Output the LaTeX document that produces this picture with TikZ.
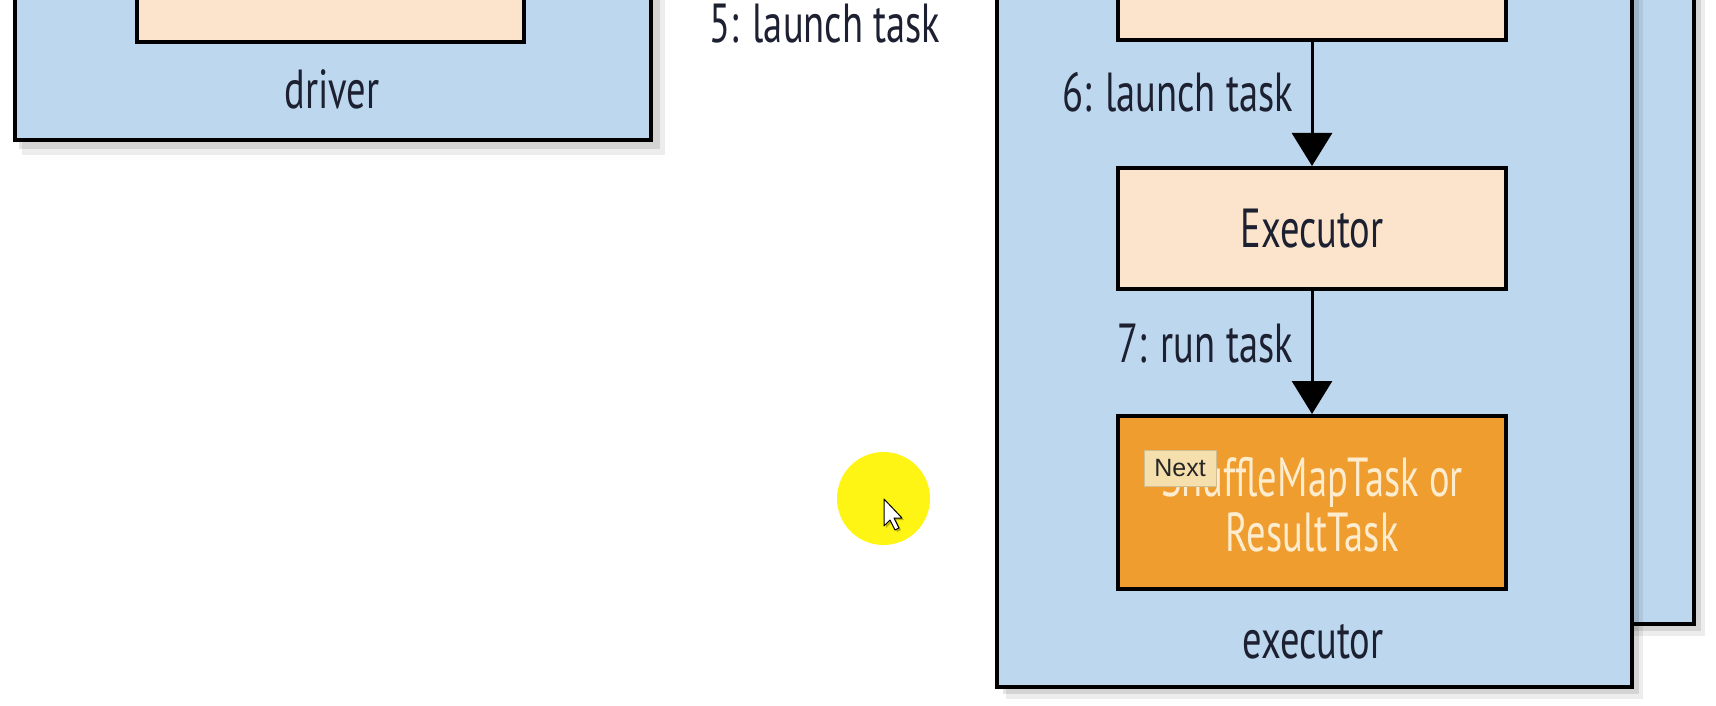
\documentclass[tikz,border=0pt]{standalone}
\usepackage{fontspec}
\setmainfont[FakeStretch=0.7]{PT Sans}
\newfontfamily\tipfont{Liberation Sans}
\usetikzlibrary{arrows.meta}
\definecolor{bluebg}{RGB}{189,215,238}
\definecolor{peach}{RGB}{252,228,204}
\definecolor{orangebox}{RGB}{240,157,48}
\definecolor{ink}{RGB}{28,32,48}
\definecolor{cream}{RGB}{253,236,205}
\definecolor{tipbg}{RGB}{245,223,172}
\definecolor{hilite}{RGB}{255,245,20}
\tikzset{
  outerbox/.style={draw=black, line width=4.5pt, fill=bluebg, inner sep=0pt},
  innerbox/.style={draw=black, line width=4pt, fill=peach, inner sep=0pt},
  taskbox/.style={draw=black, line width=4pt, fill=orangebox, inner sep=0pt},
  lbl/.style={text=ink, font=\fontsize{55}{60}\selectfont, inner sep=0pt},
  arr/.style={draw=black, line width=3pt, -{Triangle[width=40pt,length=33pt]}},
  shadowA/.style={fill=black, opacity=0.10},
  shadowB/.style={fill=black, opacity=0.07},
}
\begin{document}
\begin{tikzpicture}[x=1pt,y=-1pt]
\useasboundingbox (0,0) rectangle (1716,706);
\clip (0,0) rectangle (1716,706);
\fill[white] (0,0) rectangle (1716,706);

% ---------- driver ----------
\fill[shadowA] (19,-60) rectangle (660,149);
\fill[shadowB] (22,-60) rectangle (665,155);
\node[outerbox, minimum width=636pt, minimum height=200pt] (driver) at (333,40) {};
\node[innerbox, minimum width=387pt, minimum height=102pt] (driverin) at (330.5,-9) {};
\node[lbl, anchor=base] (driverlbl) at (332,109) {driver};

\node[lbl, anchor=base] (launch5) at (825,43) {5: launch task};

% ---------- executors ----------
\fill[shadowA] (1065,-60) rectangle (1701,631);
\fill[shadowB] (1068,-60) rectangle (1705,636);
\node[outerbox, minimum width=635pt, minimum height=684pt] (execback) at (1376.5,282) {};
\fill[shadowA] (1003,-60) rectangle (1639,694);
\fill[shadowB] (1006,-60) rectangle (1643,699);
\node[outerbox, minimum width=635pt, minimum height=747pt] (execfront) at (1314.5,313.5) {};

\node[innerbox, minimum width=388pt, minimum height=100pt] (topbox) at (1312,-10) {};
\node[innerbox, minimum width=388pt, minimum height=121pt] (executor) at (1312,228.5) {};
\node[lbl, anchor=base] at (executor.center) [yshift=-19pt] {Executor};
\node[taskbox, minimum width=388pt, minimum height=173pt] (task) at (1312,502.5) {};
\node[lbl, text=cream, anchor=base, align=center, font=\fontsize{55}{55}\selectfont] (tasktxt) at (1312,551) {ShuffleMapTask or\\ResultTask};
\node[lbl, anchor=base] (execlbl) at (1313,658) {executor};

\draw[arr] (topbox.south) -- (executor.north);
\draw[arr] (executor.south) -- (task.north);
\node[lbl, anchor=base east] (launch6) at (1293,112) {6: launch task};
\node[lbl, anchor=base east] (run7) at (1293,362) {7: run task};

% ---------- screen overlays ----------
\node[circle, fill=hilite, minimum size=93pt, inner sep=0pt] (spot) at (883.5,498.5) {};
\fill[black, opacity=0.25] (886,501) -- ++(0,27) -- ++(6,-6) -- ++(5,10) -- ++(4,-2) -- ++(-5,-10) -- ++(8,0) -- cycle;
\draw[fill=white, draw=black, line width=1pt, line join=round] (884,499) coordinate (cursortip) -- ++(0,27) -- ++(6,-6) -- ++(5,10) -- ++(4,-2) -- ++(-5,-10) -- ++(8,0) -- cycle;
\node[fill=tipbg, draw=tipbg!85!black, line width=0.4pt, minimum width=72pt, minimum height=36pt, inner sep=0pt, font=\tipfont\fontsize{25}{27}\selectfont, text=black!85] (next) at (1180,468) {Next};
\end{tikzpicture}
\end{document}
